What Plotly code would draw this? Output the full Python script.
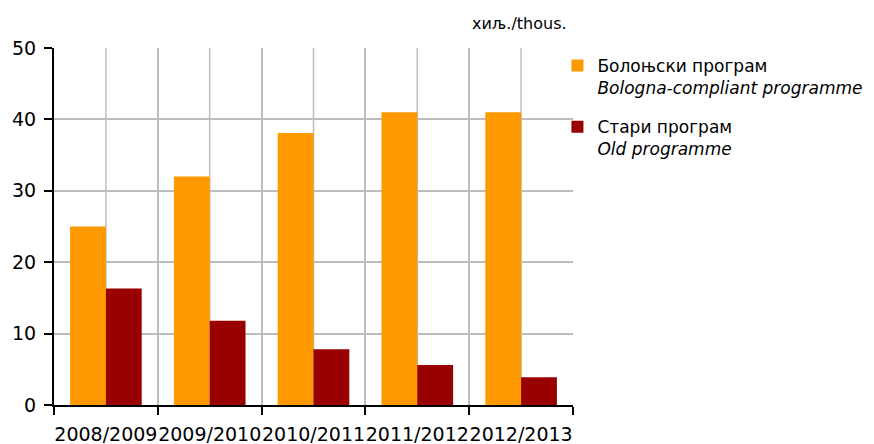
import plotly.graph_objects as go

years = ["2008/2009", "2009/2010", "2010/2011", "2011/2012", "2012/2013"]
bologna = [25.0, 32.0, 38.1, 41.0, 41.0]
old = [16.3, 11.8, 7.8, 5.6, 3.9]
name_bologna = "Болоњски програм<br><i>Bologna-compliant programme</i>"
name_old = "Стари програм<br><i>Old programme</i>"
unit_label = "хиљ./thous."

FONT = "DejaVu Sans"
GRID = "#BDBDBD"

fig = go.Figure()
fig.add_trace(go.Bar(x=years, y=bologna, name=name_bologna, legendgroup="b",
                     marker_color="#FF9900", marker_line_width=0))
fig.add_trace(go.Bar(x=years, y=old, name=name_old, legendgroup="o",
                     marker_color="#990000", marker_line_width=0))

# gridlines at category centres
for c in years:
    fig.add_shape(type="line", xref="x", yref="paper", x0=c, x1=c, y0=0, y1=1,
                  line=dict(color=GRID, width=1.5), layer="below")

fig.add_annotation(text=unit_label, xref="paper", yref="paper", x=1, y=1.07,
                   xanchor="right", yanchor="middle", showarrow=False, xshift=-4,
                   font=dict(family=FONT, size=16, color="#000"))

fig.update_layout(
    width=866, height=436,
    margin=dict(l=46, r=301, t=40, b=39, autoexpand=False),
    paper_bgcolor="white", plot_bgcolor="white",
    barmode="group", bargap=0.31, bargroupgap=0,
    font=dict(family=FONT, color="#000"),
    legend=dict(x=0.97, xanchor="left", y=1.0, yanchor="top", valign="top",
                font=dict(family=FONT, size=17), itemwidth=30,
                tracegroupgap=14, bgcolor="rgba(0,0,0,0)"),
    xaxis=dict(type="category", tickson="boundaries", ticks="outside", ticklen=8,
               tickwidth=2, tickcolor="#000", showline=True, linecolor="#000", linewidth=2,
               showgrid=True, gridcolor=GRID, gridwidth=1.5, tickangle=0, automargin=False,
               ticklabelstandoff=11,
               tickfont=dict(family=FONT, size=19)),
    yaxis=dict(range=[0, 50], dtick=10, ticks="outside", ticklen=8, tickwidth=2,
               tickcolor="#000", showline=True, linecolor="#000", linewidth=2,
               showgrid=True, gridcolor=GRID, gridwidth=1.5, zeroline=False,
               automargin=False, ticklabelstandoff=4,
               tickfont=dict(family=FONT, size=19)),
)

fig.write_html("out.html")
